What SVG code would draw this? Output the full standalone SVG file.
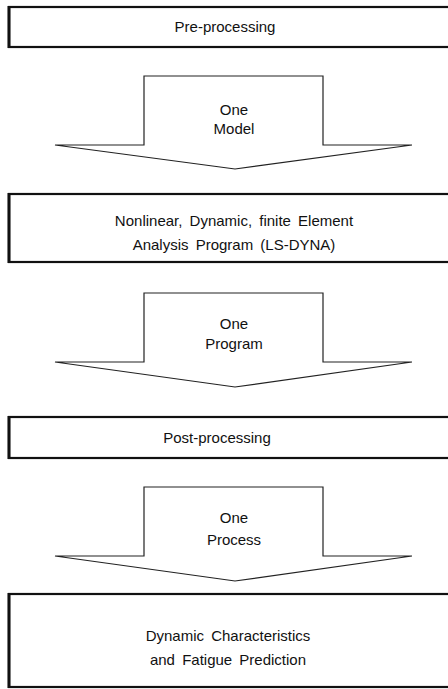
<svg xmlns="http://www.w3.org/2000/svg" width="448" height="689" viewBox="0 0 448 689">
<style>
.box{fill:#fff;stroke:#111;stroke-width:2.2}
.edge{stroke:#111;stroke-width:3}
.arr{fill:#fff;stroke:#222;stroke-width:1.2;stroke-linejoin:miter}
text{font-family:"Liberation Sans",Arial,sans-serif;font-size:15px;fill:#111;text-anchor:middle;word-spacing:3px}
</style>
<rect width="448" height="689" fill="#fff"/>
<g id="preprocessing">
<rect class="box" x="9" y="7" width="445" height="40"/>
<line class="edge" x1="9" y1="6" x2="9" y2="48"/>
<text x="225" y="32">Pre-processing</text>
</g>
<g id="connectors">
<g id="arrow1">
<path class="arr" d="M144,76 H323 V145 H412 L235,169 L55,145 H144 Z"/>
<text x="234" y="115">One</text>
<text x="234" y="134">Model</text>
</g>
<g id="arrow2">
<path class="arr" d="M144,293 H323 V362 H412 L235,387 L55,362 H144 Z"/>
<text x="234" y="329">One</text>
<text x="234" y="349">Program</text>
</g>
<g id="arrow3">
<path class="arr" d="M144,487 H323 V556 H412 L235,581 L55,556 H144 Z"/>
<text x="234" y="523">One</text>
<text x="234" y="545">Process</text>
</g>
</g>
<g id="fea">
<rect class="box" x="9" y="194" width="445" height="68"/>
<line class="edge" x1="9" y1="193" x2="9" y2="263"/>
<text x="234" y="226">Nonlinear, Dynamic, finite Element</text>
<text x="234" y="250">Analysis Program (LS-DYNA)</text>
</g>
<g id="postprocessing">
<rect class="box" x="9" y="417" width="445" height="41"/>
<line class="edge" x1="9" y1="416" x2="9" y2="459"/>
<text x="217" y="443">Post-processing</text>
</g>
<g id="result">
<rect class="box" x="9" y="594" width="445" height="93"/>
<line class="edge" x1="9" y1="593" x2="9" y2="688"/>
<text x="228" y="641">Dynamic Characteristics</text>
<text x="228" y="665">and Fatigue Prediction</text>
</g>
</svg>
